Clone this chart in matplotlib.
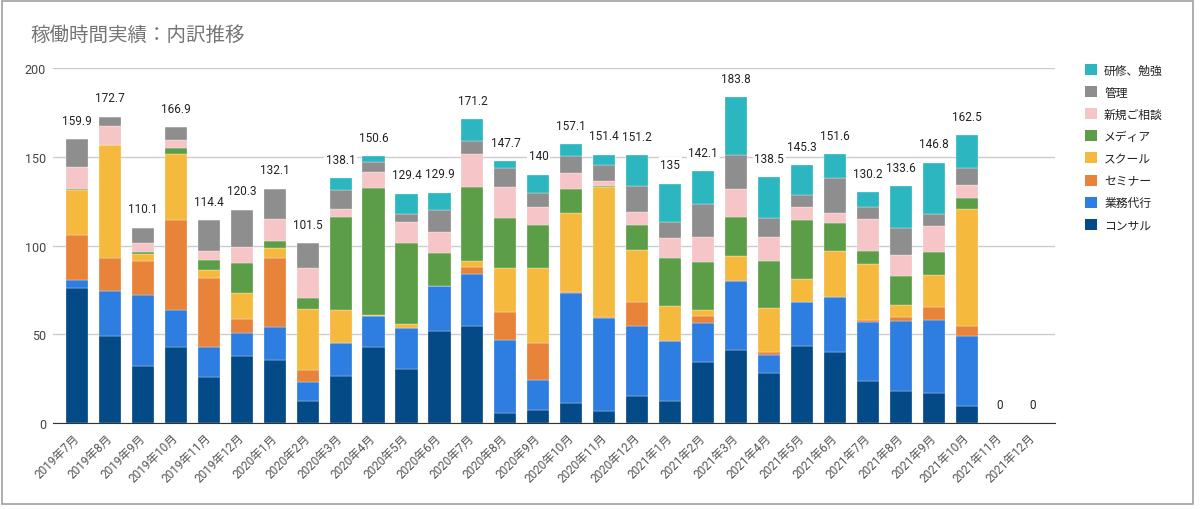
import numpy as np
import matplotlib
matplotlib.use("Agg")
import matplotlib.pyplot as plt
from matplotlib.patches import Patch, Rectangle

plt.rcParams['font.family'] = ['Roboto', 'Noto Sans CJK JP', 'DejaVu Sans']

# months on the x axis
months = ['2019年7月', '2019年8月', '2019年9月', '2019年10月', '2019年11月', '2019年12月',
          '2020年1月', '2020年2月', '2020年3月', '2020年4月', '2020年5月', '2020年6月',
          '2020年7月', '2020年8月', '2020年9月', '2020年10月', '2020年11月', '2020年12月',
          '2021年1月', '2021年2月', '2021年3月', '2021年4月', '2021年5月', '2021年6月',
          '2021年7月', '2021年8月', '2021年9月', '2021年10月', '2021年11月', '2021年12月']

# hours per category, stacked bottom -> top
consul  = [76.0, 49.1, 32.1, 42.9, 25.9, 37.8, 35.5, 12.4, 26.5, 42.9, 30.5, 51.9,
           54.7, 5.8, 7.3, 11.5, 7.0, 15.2, 12.6, 34.4, 41.2, 28.4, 43.4, 40.0,
           23.7, 18.0, 17.1, 9.6, 0, 0]
gyomu   = [4.5, 25.3, 39.9, 20.8, 17.1, 13.0, 18.6, 10.7, 18.6, 17.6, 23.3, 25.2,
           29.1, 41.0, 16.9, 61.8, 52.2, 39.5, 33.6, 22.0, 38.9, 10.1, 24.8, 31.1,
           33.3, 39.5, 41.0, 39.6, 0, 0]
seminar = [25.7, 18.5, 19.4, 50.8, 38.6, 7.8, 38.8, 6.8, 0, 0, 0, 0,
           4.0, 15.8, 20.9, 0.3, 0.8, 13.5, 0, 3.9, 0, 1.3, 0, 0,
           1.1, 2.3, 7.3, 5.5, 0, 0]
school  = [25.4, 63.9, 3.7, 37.2, 4.9, 14.5, 5.6, 34.2, 18.6, 0.6, 1.8, 0,
           3.4, 24.6, 42.1, 45.0, 73.3, 29.2, 19.8, 3.4, 13.9, 25.0, 12.8, 25.7,
           31.4, 6.6, 17.9, 66.0, 0, 0]
media   = [0.5, 0, 1.5, 3.4, 5.6, 17.3, 4.1, 6.2, 52.7, 71.6, 45.7, 19.0,
           41.9, 28.6, 24.6, 13.5, 0.5, 14.4, 27.2, 26.9, 22.4, 26.4, 33.5, 16.2,
           7.5, 16.3, 13.3, 6.2, 0, 0]
shinki  = [12.3, 10.5, 4.7, 4.5, 5.1, 9.0, 12.4, 17.3, 4.5, 8.8, 12.2, 11.4,
           18.8, 17.5, 10.2, 9.1, 2.9, 7.2, 10.9, 14.1, 15.7, 13.5, 7.5, 5.6,
           18.0, 12.2, 14.7, 7.3, 0, 0]
kanri   = [15.5, 5.4, 8.8, 7.3, 17.2, 20.9, 17.1, 13.9, 10.5, 5.5, 4.4, 12.6,
           7.3, 10.3, 7.9, 9.4, 8.8, 14.6, 9.4, 19.0, 19.2, 10.7, 6.8, 19.6,
           7.0, 15.1, 6.6, 9.6, 0, 0]
kenshu  = [0, 0, 0, 0, 0, 0, 0, 0, 6.7, 3.6, 11.5, 9.8,
           12.0, 4.1, 10.1, 6.5, 5.9, 17.6, 21.5, 18.4, 32.5, 23.1, 16.5, 13.4,
           8.2, 23.6, 28.9, 18.7, 0, 0]

series = [consul, gyomu, seminar, school, media, shinki, kanri, kenshu]
names = ['コンサル', '業務代行', 'セミナー', 'スクール', 'メディア', '新規ご相談', '管理', '研修、勉強']
colors = ['#044a87', '#2e7de0', '#e8833a', '#f5b93d', '#5c9e48', '#f5c5c7', '#8e8e8e', '#2cb7c0']

fig = plt.figure(figsize=(12, 5.1), dpi=100)
ax = fig.add_axes([0.0442, 0.1686, 0.835, 0.6955])

x = np.arange(len(months))
bottom = np.zeros(len(months))
for vals, c in zip(series, colors):
    vals = np.array(vals, dtype=float)
    ax.bar(x, vals, bottom=bottom, width=0.67, color=c, edgecolor='white', linewidth=0.2, zorder=3)
    bottom += vals

# totals above bars
for xi, t in zip(x, bottom):
    s = f"{t:.1f}".rstrip('0').rstrip('.')
    ax.annotate(s, (xi, t), xytext=(0, 13.5), textcoords='offset points',
                ha='center', va='center', fontsize=8.5, color='#222222', zorder=4,
                bbox=dict(boxstyle='square,pad=0.15', fc='white', ec='none'))

ax.set_xlim(-0.72, 29.67)
ax.set_ylim(0, 200)
ax.set_yticks([0, 50, 100, 150, 200])
ax.yaxis.grid(True, color='#cccccc', linewidth=1, zorder=0)
ax.set_axisbelow(True)
for sp in ['top', 'right', 'left']:
    ax.spines[sp].set_visible(False)
ax.spines['bottom'].set_color('#333333')
ax.spines['bottom'].set_zorder(5)
ax.tick_params(axis='y', length=0, pad=5, labelsize=9, labelcolor='#444444')
ax.tick_params(axis='x', length=0, pad=9, labelsize=8.5, labelcolor='#555555')
ax.set_xticks(x)
ax.set_xticklabels(months, rotation=45, ha='right', va='center', rotation_mode='anchor')

fig.text(30 / 1200, 1 - 35 / 510, '稼働時間実績：内訳推移', fontsize=14, color='#757575',
         ha='left', va='center', family=['Noto Sans CJK JP'])

handles = [Patch(facecolor=c) for c in colors][::-1]
fig.legend(handles, names[::-1], loc='upper left', bbox_to_anchor=(1074 / 1200, 1 - 54 / 510),
           frameon=False, fontsize=8.5, handlelength=1.05, handleheight=1.05,
           labelspacing=0.77, handletextpad=0.6, labelcolor='#222222')

fig.patches.append(Rectangle((0.0017, 0.0098), 0.9925, 0.9862, transform=fig.transFigure,
                             fill=False, edgecolor='#a0a0a0', linewidth=1.2))

fig.savefig('out.png', dpi=100)
